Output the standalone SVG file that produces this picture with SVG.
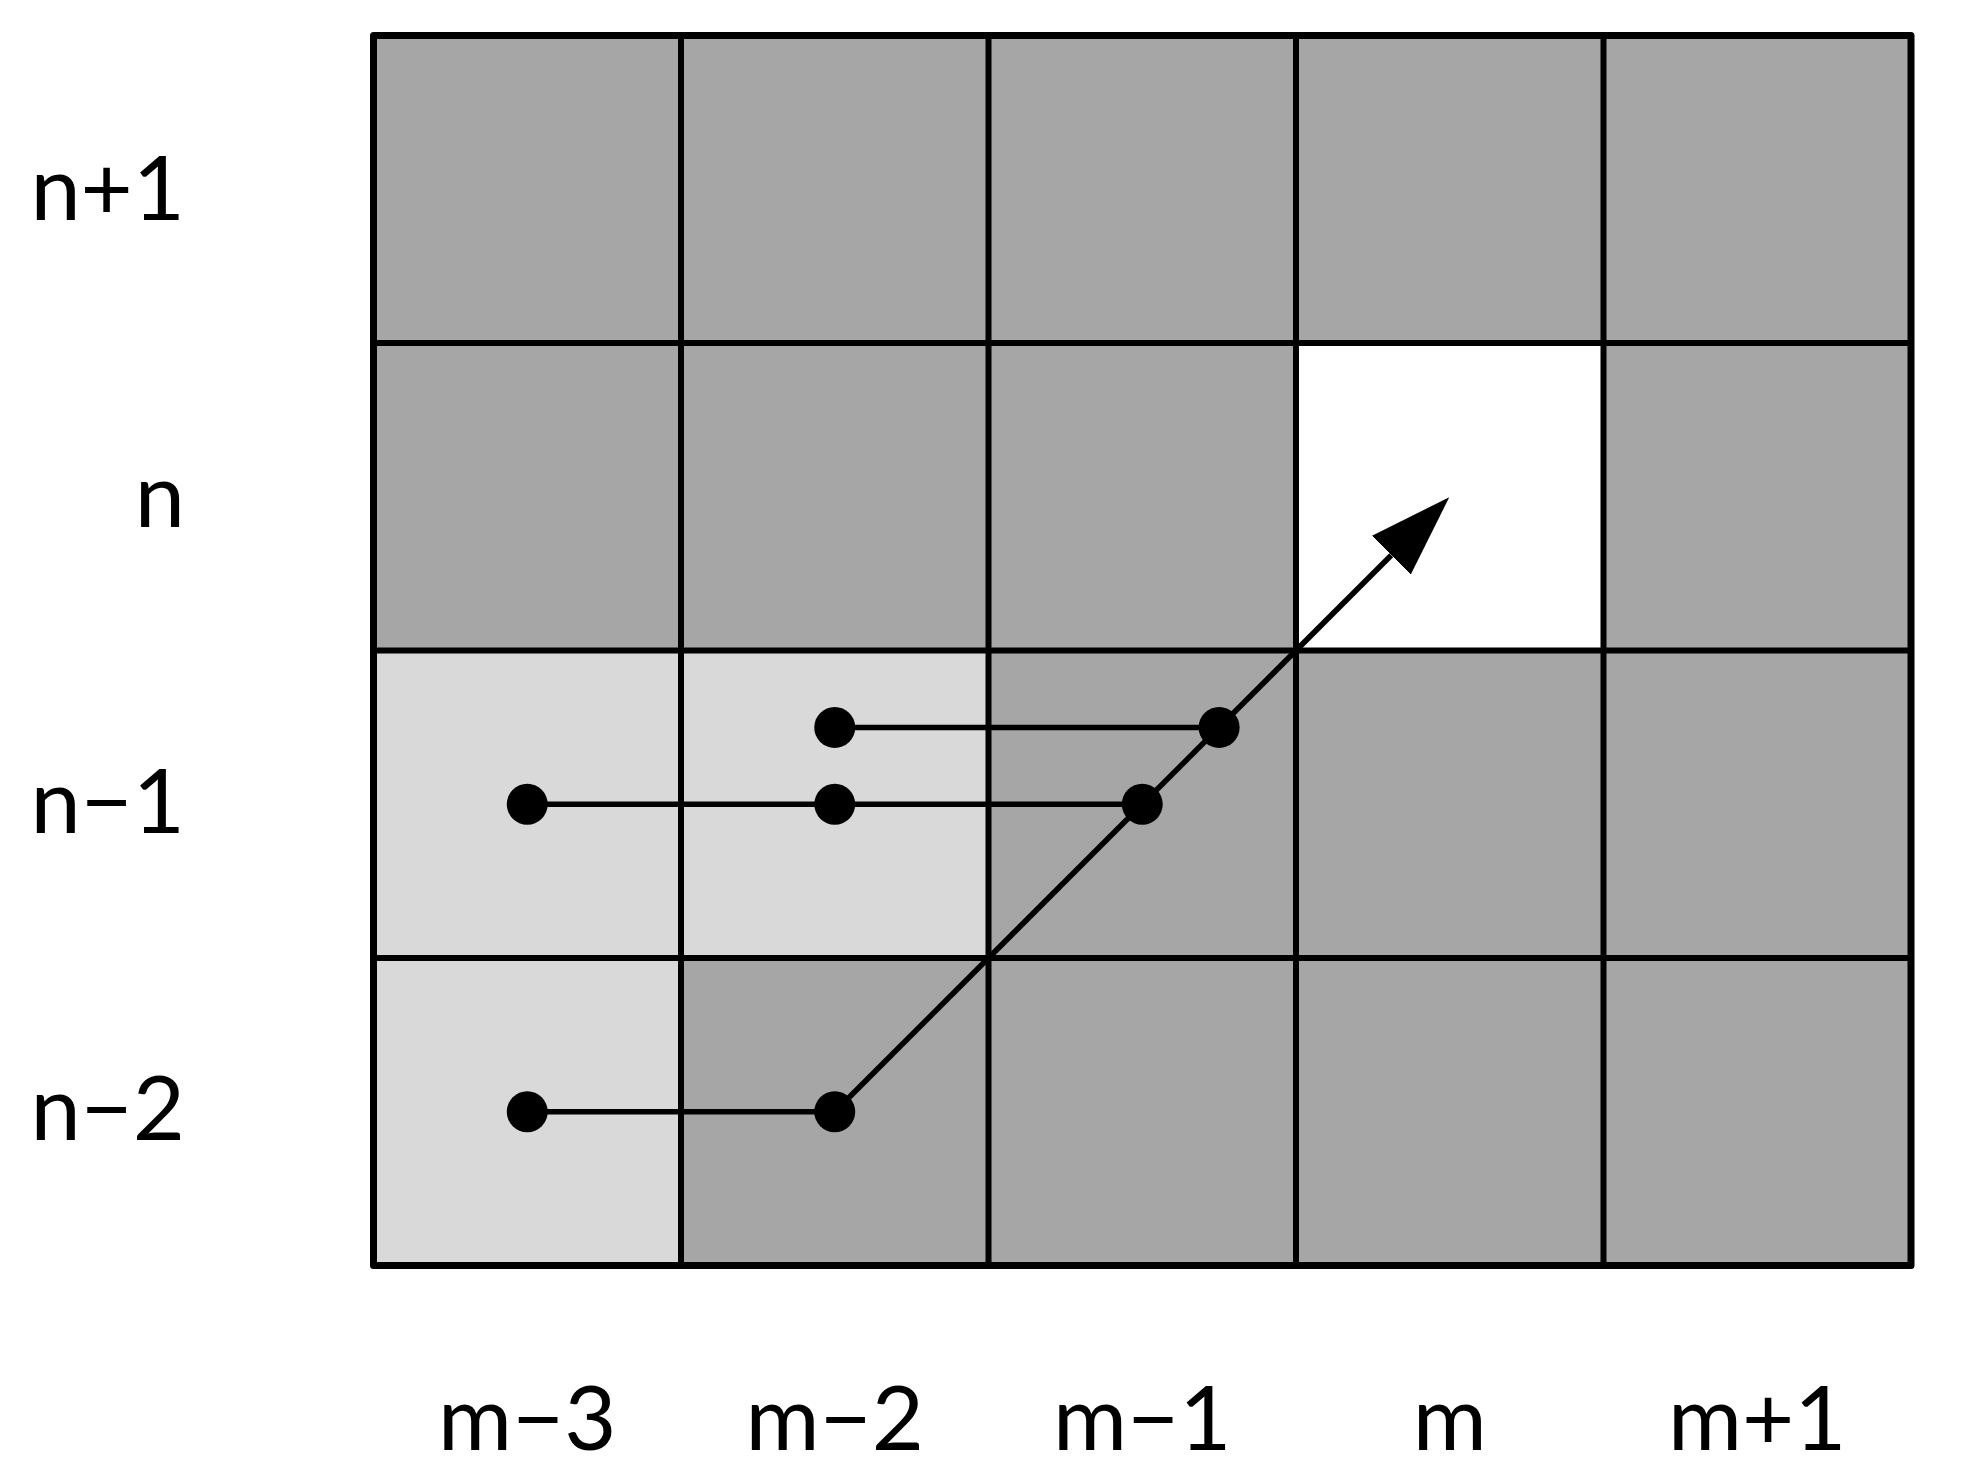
<svg xmlns="http://www.w3.org/2000/svg" width="1966" height="1484" viewBox="0 0 1966 1484">
  <style>
    .dark { fill: #a6a6a6; }
    .light { fill: #d9d9d9; }
    .white { fill: #ffffff; }
    .grid { stroke: #000; stroke-width: 6; fill: none; }
    .frame { stroke: #000; stroke-width: 7; fill: none; stroke-linejoin: round; }
    .conn { stroke: #000; stroke-width: 5.5; fill: none; }
    .dot { fill: #000; }
    .lbl { font-family: Lato, "Open Sans", "Liberation Sans", sans-serif; font-size: 90px; fill: #000; }
    .row { text-anchor: end; }
    .col { text-anchor: middle; }
  </style>
  <defs>
    <marker id="arrow" markerUnits="userSpaceOnUse" viewBox="0 0 82 55" refX="0" refY="27.5" markerWidth="82" markerHeight="55" orient="auto">
      <path d="M0,0 L82,27.5 L0,55 z" fill="#000"/>
    </marker>
  </defs>
  <rect x="0" y="0" width="1966" height="1484" fill="#ffffff"/>

  <g id="cells">
    <rect class="dark" x="373.5" y="35.5" width="1537.5" height="1230"/>
    <rect id="cell-m-n" class="white" x="1296" y="343" width="307.5" height="307.5"/>
    <rect id="cell-m3-n1" class="light" x="373.5" y="650.5" width="307.5" height="307.5"/>
    <rect id="cell-m2-n1" class="light" x="681" y="650.5" width="307.5" height="307.5"/>
    <rect id="cell-m3-n2" class="light" x="373.5" y="958" width="307.5" height="307.5"/>
  </g>

  <g id="grid">
    <path class="grid" d="M681,35.5 V1265.5 M988.5,35.5 V1265.5 M1296,35.5 V1265.5 M1603.5,35.5 V1265.5 M373.5,343 H1911 M373.5,650.5 H1911 M373.5,958 H1911"/>
    <rect class="frame" x="373.5" y="35.5" width="1537.5" height="1230"/>
  </g>

  <g id="connectors">
    <line class="conn" x1="527.25" y1="804.25" x2="1142.25" y2="804.25"/>
    <line class="conn" x1="834.75" y1="727.4" x2="1219.1" y2="727.4"/>
    <line class="conn" x1="527.25" y1="1111.75" x2="834.75" y2="1111.75"/>
    <line class="conn" x1="834.75" y1="1111.75" x2="1391.25" y2="555.25" marker-end="url(#arrow)"/>
  </g>

  <g id="dots">
    <circle id="d1" class="dot" cx="527.25" cy="804.25" r="20.5"/>
    <circle id="d2" class="dot" cx="834.75" cy="804.25" r="20.5"/>
    <circle id="d3" class="dot" cx="1142.25" cy="804.25" r="20.5"/>
    <circle id="d4" class="dot" cx="834.75" cy="727.4" r="20.5"/>
    <circle id="d5" class="dot" cx="1219.1" cy="727.4" r="20.5"/>
    <circle id="d6" class="dot" cx="527.25" cy="1111.75" r="20.5"/>
    <circle id="d7" class="dot" cx="834.75" cy="1111.75" r="20.5"/>
  </g>

  <g id="row-labels">
    <text class="lbl row" x="185" y="220">n+1</text>
    <text class="lbl row" x="185" y="527">n</text>
    <text class="lbl row" x="185" y="833">n−1</text>
    <text class="lbl row" x="185" y="1140">n−2</text>
  </g>

  <g id="col-labels">
    <text class="lbl col" x="527.25" y="1450">m−3</text>
    <text class="lbl col" x="834.75" y="1450">m−2</text>
    <text class="lbl col" x="1142.25" y="1450">m−1</text>
    <text class="lbl col" x="1449.75" y="1450">m</text>
    <text class="lbl col" x="1757.25" y="1450">m+1</text>
  </g>
</svg>
